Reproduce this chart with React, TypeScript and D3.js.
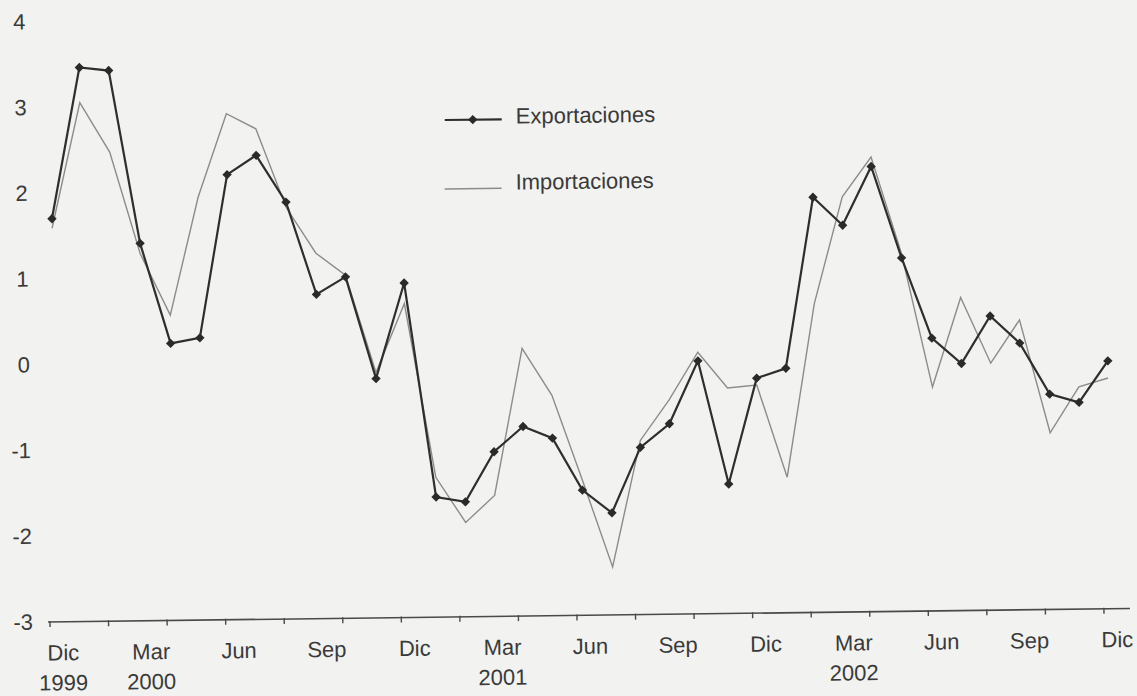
import React from "react";
import * as d3 from "d3";

const monthNames = ["Dic", "Ene", "Feb", "Mar", "Abr", "May", "Jun", "Jul", "Ago", "Sep", "Oct", "Nov"];
const categories: string[] = Array.from({ length: 37 }, (_, i) => monthNames[i % 12]);
const yearLabels: Record<number, string> = { 0: "1999", 3: "2000", 15: "2001", 27: "2002" };
const yTicks = [4, 3, 2, 1, 0, -1, -2, -3];

const exportaciones = [
  1.70, 3.46, 3.42, 1.40, 0.23, 0.29, 2.19, 2.41, 1.86, 0.78, 0.98, -0.21, 0.90,
  -1.60, -1.66, -1.08, -0.79, -0.93, -1.54, -1.81, -1.05, -0.78, -0.05, -1.49, -0.26,
  -0.15, 1.84, 1.51, 2.19, 1.12, 0.18, -0.12, 0.43, 0.11, -0.49, -0.59, -0.11,
];
const importaciones = [
  1.59, 3.05, 2.47, 1.28, 0.56, 1.93, 2.90, 2.72, 1.80, 1.26, 1.00, -0.14, 0.66,
  -1.37, -1.90, -1.59, 0.12, -0.43, -1.42, -2.44, -0.97, -0.50, 0.05, -0.37, -0.34,
  -1.42, 0.60, 1.84, 2.30, 1.17, -0.39, 0.65, -0.12, 0.38, -0.94, -0.41, -0.31,
];

const W = 1137;
const H = 696;
const FONT = "'Liberation Sans', Arial, sans-serif";
const TEXT = "#3a3a3a";

export default function App() {
  const x = d3.scaleLinear().domain([0, categories.length - 1]).range([57, 1111]);
  const y = d3.scaleLinear().domain([-3, 4]).range([622, 21.6]);
  const line = d3
    .line<number>()
    .x((_, i) => x(i))
    .y((d) => y(d));
  const marker = d3.symbol().type(d3.symbolSquare).size(44)();
  const axisY = y(-3);
  const tickIdx = d3.range(0, categories.length, 2);
  const labelIdx = d3.range(0, categories.length, 3);

  return (
    <svg
      width={W}
      height={H}
      style={{ position: "absolute", left: 0, top: 0, background: "#f2f2f0" }}
      fontFamily={FONT}
    >
      <rect x={0} y={0} width={W} height={H} fill="#f2f2f0" />
      <g transform={`rotate(-0.716, 48, 622)`}>
        {/* y labels */}
        {yTicks.map((t) => (
          <text key={t} x={33} y={y(t)} textAnchor="end" dominantBaseline="central" fontSize={22} fill={TEXT}>
            {String(t)}
          </text>
        ))}
        {/* x axis */}
        <line x1={48} x2={1130} y1={axisY} y2={axisY} stroke="#4a4a4a" strokeWidth={1.6} />
        {tickIdx.map((i) => (
          <line key={i} x1={x(i) - 7} x2={x(i) - 7} y1={axisY - 1} y2={axisY + 5} stroke="#4a4a4a" strokeWidth={1.4} />
        ))}
        {labelIdx.map((i) => (
          <g key={i}>
            <text x={x(i) + 6} y={653} textAnchor="middle" dominantBaseline="central" fontSize={22} fill={TEXT}>
              {categories[i]}
            </text>
            {yearLabels[i] && (
              <text x={x(i) + 6} y={683} textAnchor="middle" dominantBaseline="central" fontSize={22} fill={TEXT}>
                {yearLabels[i]}
              </text>
            )}
          </g>
        ))}
        {/* series */}
        <path d={line(importaciones) || ""} fill="none" stroke="#8c8c8c" strokeWidth={1.4} />
        <path d={line(exportaciones) || ""} fill="none" stroke="#2e2e2e" strokeWidth={2.2} />
        {exportaciones.map((v, i) => (
          <path key={i} d={marker || ""} transform={`translate(${x(i)},${y(v)}) rotate(45)`} fill="#2a2a2a" />
        ))}
        {/* legend */}
        <line x1={451} x2={508} y1={125} y2={125} stroke="#2e2e2e" strokeWidth={2.2} />
        <path d={marker || ""} transform="translate(479,125) rotate(45)" fill="#2a2a2a" />
        <text x={522} y={122} dominantBaseline="central" fontSize={22} fill={TEXT}>
          Exportaciones
        </text>
        <line x1={450} x2={507} y1={194} y2={194} stroke="#8c8c8c" strokeWidth={1.4} />
        <text x={521} y={188} dominantBaseline="central" fontSize={22} fill={TEXT}>
          Importaciones
        </text>
      </g>
    </svg>
  );
}
